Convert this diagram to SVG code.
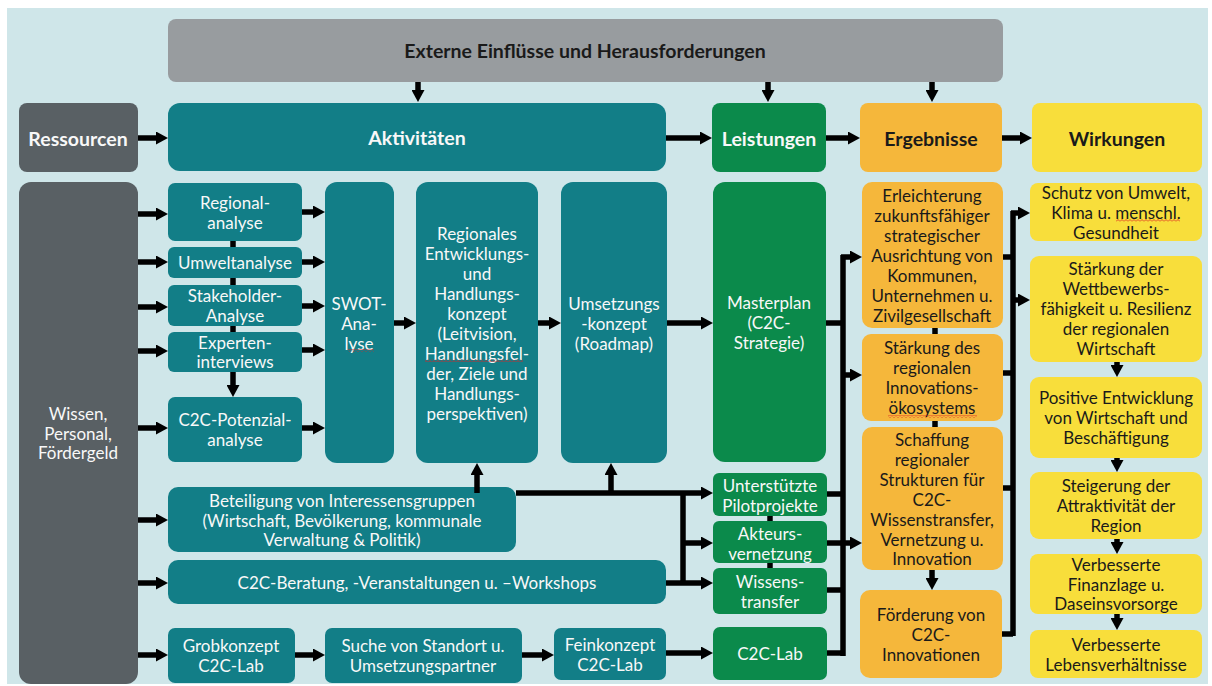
<svg xmlns="http://www.w3.org/2000/svg" width="1212" height="686" viewBox="0 0 1212 686">
<style>
.t{font-family:Lato,"Liberation Sans",sans-serif;font-size:17px;text-anchor:middle;dominant-baseline:central}
.h{font-weight:bold;font-size:19.5px}
.w{fill:#f8f8f8}
.k{fill:#1a1a1a}
.teal{fill:#127e87}
.green{fill:#0b8a4b}
.orange{fill:#f5b73b}
.yellow{fill:#f8de3b}
.dgray{fill:#596064}
.c line{stroke:#000;stroke-width:5.5;fill:none}
.c .a{marker-end:url(#ah)}
</style>
<defs>
<marker id="ah" markerUnits="userSpaceOnUse" markerWidth="12" markerHeight="13" refX="0" refY="6.5" orient="auto">
<path d="M0,0 L12,6.5 L0,13 z" fill="#000"/>
</marker>
<pattern id="wavy" width="4" height="3" patternUnits="userSpaceOnUse">
<path d="M0,2.5 L2,0.5 L4,2.5" stroke="#d22" fill="none" stroke-width="0.8"/>
</pattern>
</defs>
<rect x="7" y="8" width="1201" height="676" fill="#cfe6e9"/>

<g id="extern"><rect x="168" y="19" width="835" height="63" rx="8" fill="#989c9f"/><text class="t h k" x="585" y="50">Externe Einflüsse und Herausforderungen</text></g>
<g id="ressourcen"><rect class="dgray" x="19" y="103" width="119" height="69" rx="8"/><text class="t h w" x="78" y="138">Ressourcen</text></g>
<g id="aktivitaeten"><rect class="teal" x="168" y="103" width="498" height="68" rx="12"/><text class="t h w" x="417" y="137">Aktivitäten</text></g>
<g id="leistungen"><rect class="green" x="712" y="103" width="114" height="69" rx="8"/><text class="t h w" x="769" y="138">Leistungen</text></g>
<g id="ergebnisse"><rect class="orange" x="860" y="103" width="142" height="69" rx="8"/><text class="t h k" x="931" y="138">Ergebnisse</text></g>
<g id="wirkungen"><rect class="yellow" x="1032" y="103" width="170" height="69" rx="8"/><text class="t h k" x="1117" y="138">Wirkungen</text></g>

<g id="wissen"><rect class="dgray" x="19" y="182" width="119" height="502" rx="12"/><text class="t w" x="78" y="413">Wissen,</text><text class="t w" x="78" y="433">Personal,</text><text class="t w" x="78" y="452">Fördergeld</text></g>

<g id="regionalanalyse"><rect class="teal" x="168" y="183" width="134" height="58" rx="7"/><text class="t w" x="235" y="202">Regional-</text><text class="t w" x="235" y="222">analyse</text></g>
<g id="umweltanalyse"><rect class="teal" x="168" y="247" width="134" height="31" rx="6"/><text class="t w" x="235" y="262">Umweltanalyse</text></g>
<g id="stakeholder"><rect class="teal" x="168" y="285" width="134" height="41" rx="6"/><text class="t w" x="235" y="295">Stakeholder-</text><text class="t w" x="235" y="315">Analyse</text></g>
<g id="experten"><rect class="teal" x="168" y="332" width="134" height="40" rx="6"/><text class="t w" x="235" y="342">Experten-</text><text class="t w" x="235" y="361">interviews</text></g>
<g id="potenzial"><rect class="teal" x="168" y="397" width="134" height="65" rx="7"/><text class="t w" x="235" y="419">C2C-Potenzial-</text><text class="t w" x="235" y="439">analyse</text></g>

<g id="swot"><rect class="teal" x="325" y="182" width="69" height="281" rx="12"/><text class="t w" x="359" y="303">SWOT-</text><text class="t w" x="359" y="323">Ana-</text><text class="t w" x="359" y="343">lyse</text><rect x="348" y="349" width="26" height="3" fill="url(#wavy)"/></g>

<g id="rek"><rect class="teal" x="416" y="182" width="122" height="281" rx="12"/>
<text class="t w" x="477" y="233">Regionales</text><text class="t w" x="477" y="253">Entwicklungs-</text><text class="t w" x="477" y="273">und</text><text class="t w" x="477" y="293">Handlungs-</text><text class="t w" x="477" y="313">konzept</text><text class="t w" x="477" y="333">(Leitvision,</text><text class="t w" x="477" y="353">Handlungsfel-</text><text class="t w" x="477" y="373">der, Ziele und</text><text class="t w" x="477" y="393">Handlungs-</text><text class="t w" x="477" y="413">perspektiven)</text><rect x="425" y="359" width="98" height="3" fill="url(#wavy)"/></g>

<g id="umsetzung"><rect class="teal" x="561" y="182" width="106" height="281" rx="12"/><text class="t w" x="614" y="303">Umsetzungs</text><text class="t w" x="614" y="323">-konzept</text><text class="t w" x="614" y="343">(Roadmap)</text></g>

<g id="masterplan"><rect class="green" x="713" y="182" width="113" height="280" rx="12"/><text class="t w" x="769" y="302">Masterplan</text><text class="t w" x="769" y="322">(C2C-</text><text class="t w" x="769" y="342">Strategie)</text></g>

<g id="beteiligung"><rect class="teal" x="168" y="487" width="348" height="65" rx="10"/><text class="t w" x="342" y="500">Beteiligung von Interessensgruppen</text><text class="t w" x="342" y="520">(Wirtschaft, Bevölkerung, kommunale</text><text class="t w" x="342" y="539">Verwaltung &amp; Politik)</text></g>
<g id="beratung"><rect class="teal" x="168" y="560" width="498" height="44" rx="10"/><text class="t w" x="417" y="582">C2C-Beratung, -Veranstaltungen u. –Workshops</text></g>

<g id="grobkonzept"><rect class="teal" x="168" y="628" width="127" height="55" rx="7"/><text class="t w" x="231" y="645">Grobkonzept</text><text class="t w" x="231" y="665">C2C-Lab</text></g>
<g id="suche"><rect class="teal" x="325" y="628" width="197" height="55" rx="7"/><text class="t w" x="423" y="645">Suche von Standort u.</text><text class="t w" x="423" y="665">Umsetzungspartner</text></g>
<g id="feinkonzept"><rect class="teal" x="554" y="628" width="112" height="52" rx="7"/><text class="t w" x="610" y="644">Feinkonzept</text><text class="t w" x="610" y="664">C2C-Lab</text></g>

<g id="pilot"><rect class="green" x="713" y="473" width="114" height="43" rx="6"/><text class="t w" x="770" y="485">Unterstützte</text><text class="t w" x="770" y="505">Pilotprojekte</text></g>
<g id="akteurs"><rect class="green" x="713" y="521" width="114" height="42" rx="6"/><text class="t w" x="770" y="533">Akteurs-</text><text class="t w" x="770" y="553">vernetzung</text></g>
<g id="wissenstransfer"><rect class="green" x="713" y="568" width="114" height="46" rx="6"/><text class="t w" x="770" y="581">Wissens-</text><text class="t w" x="770" y="601">transfer</text></g>
<g id="c2clab"><rect class="green" x="713" y="627" width="114" height="53" rx="7"/><text class="t w" x="770" y="653">C2C-Lab</text></g>

<g id="erleichterung"><rect class="orange" x="862" y="182" width="141" height="146" rx="10"/><text class="t k" x="932" y="195">Erleichterung</text><text class="t k" x="932" y="215">zukunftsfähiger</text><text class="t k" x="932" y="235">strategischer</text><text class="t k" x="932" y="255">Ausrichtung von</text><text class="t k" x="932" y="275">Kommunen,</text><text class="t k" x="932" y="295">Unternehmen u.</text><text class="t k" x="932" y="315">Zivilgesellschaft</text></g>
<g id="innovationsoekosystem"><rect class="orange" x="862" y="334" width="141" height="87" rx="9"/><text class="t k" x="932" y="347">Stärkung des</text><text class="t k" x="932" y="367">regionalen</text><text class="t k" x="932" y="387">Innovations-</text><text class="t k" x="932" y="407">ökosystems</text><rect x="888" y="415" width="89" height="3" fill="url(#wavy)"/></g>
<g id="schaffung"><rect class="orange" x="862" y="427" width="141" height="143" rx="10"/><text class="t k" x="932" y="439">Schaffung</text><text class="t k" x="932" y="459">regionaler</text><text class="t k" x="932" y="479">Strukturen für</text><text class="t k" x="932" y="499">C2C-</text><text class="t k" x="932" y="519">Wissenstransfer,</text><text class="t k" x="932" y="539">Vernetzung u.</text><text class="t k" x="932" y="558">Innovation</text></g>
<g id="foerderung"><rect class="orange" x="860" y="590" width="142" height="88" rx="10"/><text class="t k" x="931" y="614">Förderung von</text><text class="t k" x="931" y="634">C2C-</text><text class="t k" x="931" y="654">Innovationen</text></g>

<g id="schutz"><rect class="yellow" x="1030" y="183" width="172" height="58" rx="8"/><text class="t k" x="1116" y="192">Schutz von Umwelt,</text><text class="t k" x="1116" y="212">Klima u. menschl.</text><text class="t k" x="1116" y="232">Gesundheit</text><rect x="1116" y="219" width="64" height="3" fill="url(#wavy)"/></g>
<g id="wettbewerb"><rect class="yellow" x="1030" y="256" width="172" height="106" rx="9"/><text class="t k" x="1116" y="268">Stärkung der</text><text class="t k" x="1116" y="288">Wettbewerbs-</text><text class="t k" x="1116" y="308">fähigkeit u. Resilienz</text><text class="t k" x="1116" y="328">der regionalen</text><text class="t k" x="1116" y="348">Wirtschaft</text></g>
<g id="positiv"><rect class="yellow" x="1030" y="377" width="172" height="81" rx="9"/><text class="t k" x="1116" y="397">Positive Entwicklung</text><text class="t k" x="1116" y="417">von Wirtschaft und</text><text class="t k" x="1116" y="437">Beschäftigung</text></g>
<g id="attraktivitaet"><rect class="yellow" x="1030" y="472" width="172" height="67" rx="9"/><text class="t k" x="1116" y="485">Steigerung der</text><text class="t k" x="1116" y="505">Attraktivität der</text><text class="t k" x="1116" y="525">Region</text></g>
<g id="finanzlage"><rect class="yellow" x="1030" y="554" width="172" height="60" rx="8"/><text class="t k" x="1116" y="564">Verbesserte</text><text class="t k" x="1116" y="584">Finanzlage u.</text><text class="t k" x="1116" y="603">Daseinsvorsorge</text></g>
<g id="lebensverhaeltnisse"><rect class="yellow" x="1030" y="630" width="172" height="48" rx="8"/><text class="t k" x="1116" y="644">Verbesserte</text><text class="t k" x="1116" y="664">Lebensverhältnisse</text></g>

<g id="connectors" class="c">
<line class="a" x1="418" y1="82" x2="418" y2="90"/>
<line class="a" x1="768" y1="82" x2="768" y2="90"/>
<line class="a" x1="932" y1="82" x2="932" y2="90"/>
<line class="a" x1="138" y1="138" x2="156" y2="138"/>
<line class="a" x1="666" y1="138" x2="700" y2="138"/>
<line class="a" x1="826" y1="138" x2="848" y2="138"/>
<line class="a" x1="1002" y1="138" x2="1020" y2="138"/>
<line class="a" x1="138" y1="214" x2="156" y2="214"/>
<line class="a" x1="138" y1="262" x2="156" y2="262"/>
<line class="a" x1="138" y1="307" x2="156" y2="307"/>
<line class="a" x1="138" y1="351" x2="156" y2="351"/>
<line class="a" x1="138" y1="428" x2="156" y2="428"/>
<line class="a" x1="138" y1="520" x2="156" y2="520"/>
<line class="a" x1="138" y1="583" x2="156" y2="583"/>
<line class="a" x1="138" y1="655" x2="156" y2="655"/>
<line class="a" x1="302" y1="212" x2="313" y2="212"/>
<line class="a" x1="302" y1="262" x2="313" y2="262"/>
<line class="a" x1="302" y1="306" x2="313" y2="306"/>
<line class="a" x1="302" y1="350" x2="313" y2="350"/>
<line class="a" x1="302" y1="428" x2="313" y2="428"/>
<line x1="233" y1="241" x2="233" y2="247"/>
<line x1="233" y1="278" x2="233" y2="285"/>
<line x1="233" y1="326" x2="233" y2="332"/>
<line class="a" x1="233" y1="372" x2="233" y2="385"/>
<line class="a" x1="394" y1="323" x2="404" y2="323"/>
<line class="a" x1="538" y1="323" x2="549" y2="323"/>
<line class="a" x1="667" y1="323" x2="701" y2="323"/>
<line class="a" x1="516" y1="493" x2="701" y2="493"/>
<line class="a" x1="477" y1="493" x2="477" y2="475"/>
<line class="a" x1="611" y1="493" x2="611" y2="475"/>
<line x1="683" y1="493" x2="683" y2="585"/>
<line class="a" x1="683" y1="543" x2="701" y2="543"/>
<line class="a" x1="666" y1="583" x2="701" y2="583"/>
<line class="a" x1="295" y1="655" x2="313" y2="655"/>
<line class="a" x1="522" y1="655" x2="542" y2="655"/>
<line class="a" x1="666" y1="653" x2="701" y2="653"/>
<line x1="770" y1="516" x2="770" y2="521"/>
<line x1="770" y1="563" x2="770" y2="568"/>
<line x1="843" y1="255" x2="843" y2="656"/>
<line x1="826" y1="323" x2="843" y2="323"/>
<line x1="827" y1="494" x2="843" y2="494"/>
<line x1="827" y1="590" x2="843" y2="590"/>
<line x1="827" y1="653" x2="843" y2="653"/>
<line class="a" x1="827" y1="543" x2="850" y2="543"/>
<line class="a" x1="841" y1="257" x2="850" y2="257"/>
<line class="a" x1="843" y1="375" x2="850" y2="375"/>
<line x1="935" y1="328" x2="935" y2="334"/>
<line x1="935" y1="421" x2="935" y2="427"/>
<line class="a" x1="932" y1="570" x2="932" y2="578"/>
<line x1="1013" y1="211" x2="1013" y2="636"/>
<line x1="1003" y1="257" x2="1013" y2="257"/>
<line x1="1003" y1="373" x2="1013" y2="373"/>
<line x1="1003" y1="488" x2="1013" y2="488"/>
<line x1="1002" y1="634" x2="1013" y2="634"/>
<line class="a" x1="1011" y1="213" x2="1018" y2="213"/>
<line class="a" x1="1013" y1="300" x2="1018" y2="300"/>
<line class="a" x1="1117" y1="362" x2="1117" y2="365"/>
<line class="a" x1="1117" y1="458" x2="1117" y2="460"/>
<line class="a" x1="1117" y1="539" x2="1117" y2="542"/>
<line class="a" x1="1117" y1="614" x2="1117" y2="618"/>
</g>
</svg>
